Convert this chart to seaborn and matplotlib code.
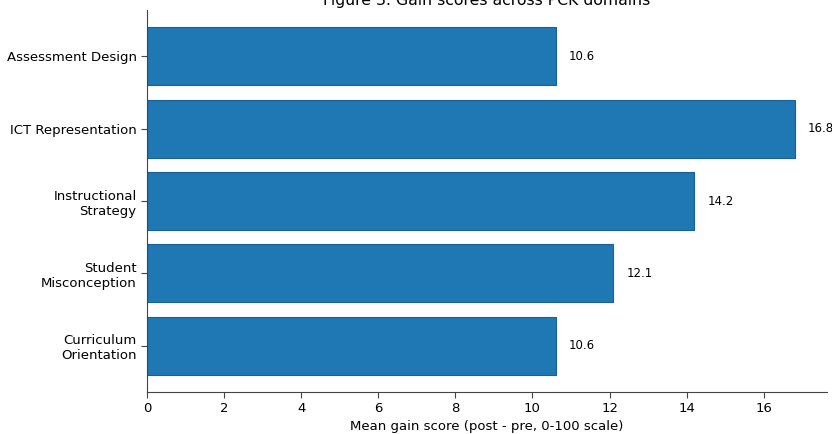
import matplotlib
matplotlib.use("Agg")
import matplotlib.pyplot as plt
import seaborn as sns
import pandas as pd

domains = [
    "Assessment Design",
    "ICT Representation",
    "Instructional\nStrategy",
    "Student\nMisconception",
    "Curriculum\nOrientation",
]
gains = [10.6, 16.8, 14.2, 12.1, 10.6]

df = pd.DataFrame({"domain": domains, "gain": gains})

sns.set_style("ticks", {"text.color": "black", "xtick.color": "#444444",
                        "ytick.color": "#444444", "axes.labelcolor": "black"})
plt.rcParams["font.family"] = ["DejaVu Sans"]

fig = plt.figure(figsize=(8.32, 4.34), dpi=100)
ax = fig.add_axes([0.1767, 0.0968, 0.8173, 0.880])

sns.barplot(data=df, x="gain", y="domain", orient="h", color="#1f77b4",
            saturation=1, width=0.8, edgecolor="#1a5f96", linewidth=0.8, ax=ax)

xmax = max(gains)
for i, v in enumerate(gains):
    ax.text(v + xmax * 0.02, i, f"{v:.1f}", va="center", ha="left",
            fontsize=8.5, color="black")

ax.set_xlim(0, xmax * 1.05)
ax.set_ylim(len(domains) - 0.36, -0.64)
ax.set_xticks(range(0, 17, 2))
ax.set_xlabel("Mean gain score (post - pre, 0-100 scale)", fontsize=9.5,
              color="black", labelpad=3)
ax.set_ylabel("")
ax.tick_params(axis="both", labelsize=9.5, color="#444444", length=4,
               labelcolor="black")
ax.set_title("Figure 3. Gain scores across PCK domains", fontsize=11.3, pad=4,
             color="black")
for side in ("top", "right"):
    ax.spines[side].set_visible(False)
for side in ("left", "bottom"):
    ax.spines[side].set_color("#444444")

fig.savefig("out.png", dpi=100)
